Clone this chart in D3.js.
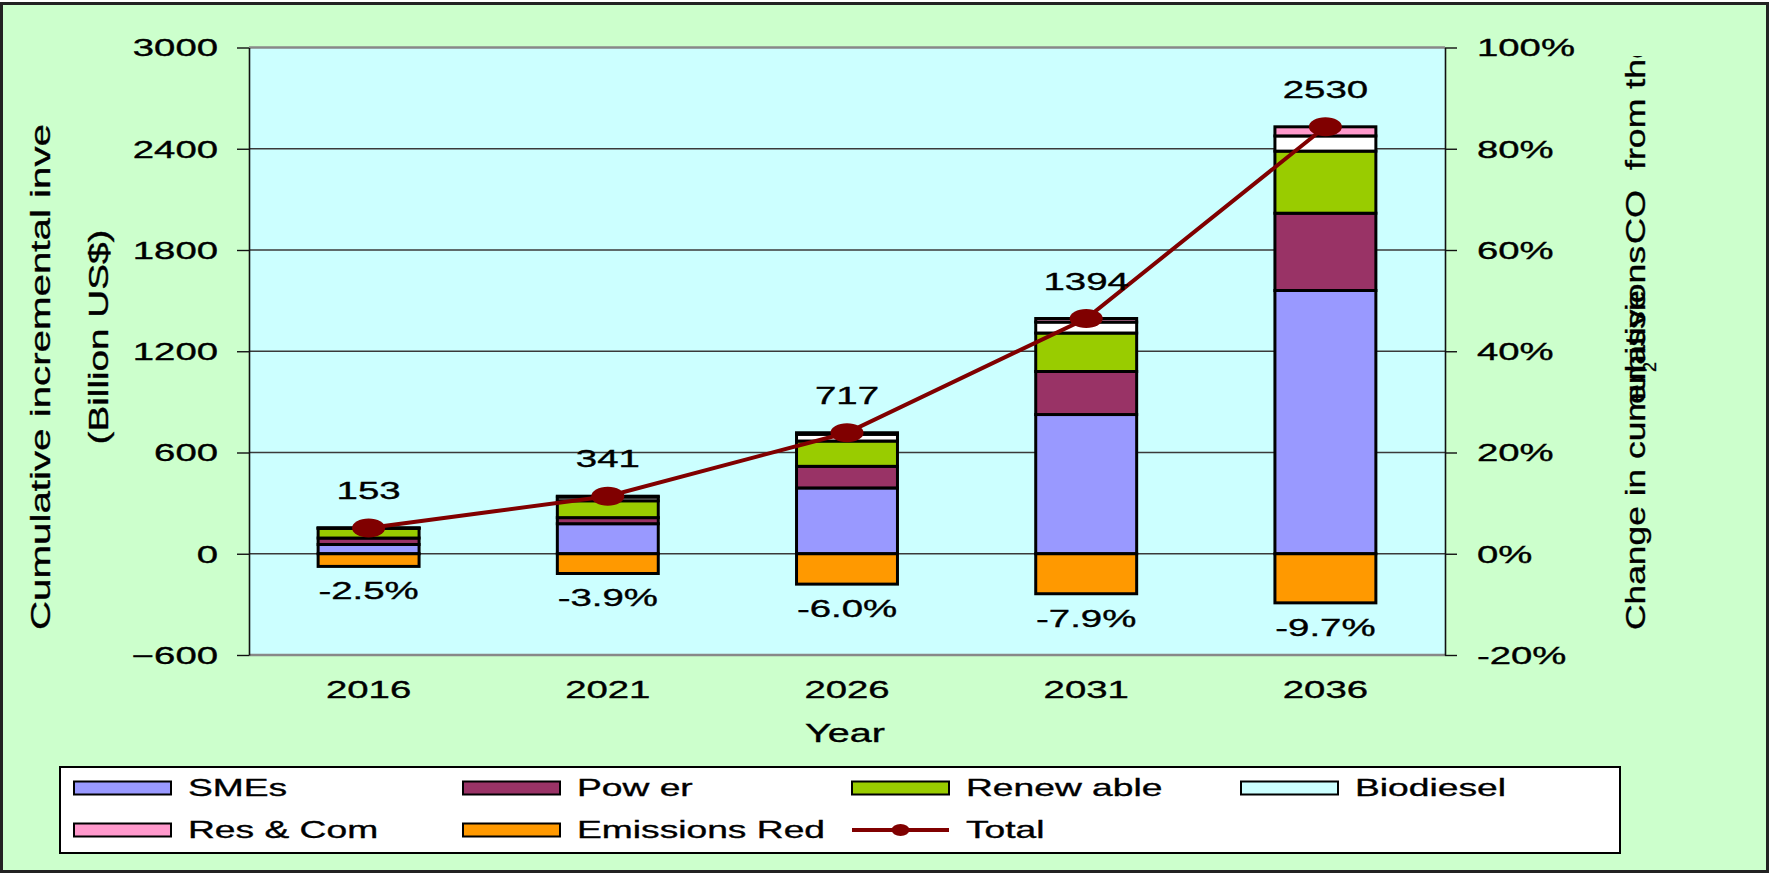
<!DOCTYPE html>
<html><head><meta charset="utf-8">
<script src="https://cdn.jsdelivr.net/npm/d3@7"></script>
<style>
body{margin:0;background:#fff;}
text{font-family:"Liberation Sans",Arial,sans-serif;fill:#000;stroke:#000;stroke-width:0.35px;}
</style>
</head><body>
<svg id="chart" width="1771" height="874"></svg>
<script>
// ---------- data ----------
const categories = ["2016","2021","2026","2031","2036"];
const smes       = [55, 178, 390, 825, 1560];
const power      = [38, 36, 128, 255, 458];
const renewable  = [58, 100, 150, 228, 368];
const biodiesel  = [1, 22, 40, 65, 90];
const resCom     = [1, 5, 9, 21, 54];
const emissionsRed = [-2.5, -3.9, -6.0, -7.9, -9.7];
const total      = [153, 341, 717, 1394, 2530];
const leftTicks  = [-600, 0, 600, 1200, 1800, 2400, 3000];
const rightTicks = [-20, 0, 20, 40, 60, 80, 100];
const stackKeys  = ["SMEs","Power","Renewable","Biodiesel","ResCom"];
const legendLabels = ["SMEs","Pow er","Renew able","Biodiesel","Res & Com","Emissions Red","Total"];

// ---------- styles ----------
const colors = {SMEs:"#9999FF", Power:"#993366", Renewable:"#99CC00", Biodiesel:"#FFFFFF", ResCom:"#FF99CC", Emissions:"#FF9900"};
const legendColors = ["#9999FF","#993366","#99CC00","#CCFFFF","#FF99CC","#FF9900"];
const lineColor = "#800000";
const FS = 23.5, SX = 1.63;   // tick font size and horizontal stretch seen in the reference

const svg = d3.select("#chart");
svg.append("rect").attr("width",1771).attr("height",874).attr("fill","#fff");
svg.append("rect").attr("x",1.5).attr("y",3.5).attr("width",1766).attr("height",868)
   .attr("fill","#CCFFCC").attr("stroke","#222").attr("stroke-width",3);

const L = 249, R = 1445, T = 47.5, B = 655;
const x = d3.scaleBand().domain(categories).range([L,R]).paddingInner(0.578).paddingOuter(0.289);
const y = d3.scaleLinear().domain([-600,3000]).range([B,T]);
const y2 = d3.scaleLinear().domain([-20,100]).range([B,T]);

// plot area
svg.append("rect").attr("x",L).attr("y",T).attr("width",R-L).attr("height",B-T).attr("fill","#CCFFFF");
// gridlines
svg.append("g").selectAll("line").data(leftTicks.slice(1,-1)).join("line")
  .attr("x1",L).attr("x2",R).attr("y1",d=>y(d)).attr("y2",d=>y(d))
  .attr("stroke","#3a3a3a").attr("stroke-width",1.4);
svg.append("line").attr("x1",L).attr("x2",R).attr("y1",T).attr("y2",T).attr("stroke","#888").attr("stroke-width",2.5);
svg.append("line").attr("x1",L).attr("x2",R).attr("y1",B).attr("y2",B).attr("stroke","#888").attr("stroke-width",2.5);

// axes
const gl = svg.append("g").attr("transform",`translate(${L},0)`)
  .call(d3.axisLeft(y).tickValues(leftTicks).tickSize(12).tickSizeOuter(0).tickFormat(d3.format("d")));
gl.select(".domain").attr("stroke","#111").attr("stroke-width",1.6);
gl.selectAll(".tick line").attr("stroke","#111").attr("stroke-width",1.4);
gl.selectAll(".tick text").attr("x",null).attr("dy",null).attr("font-size",FS)
  .attr("text-anchor","end").attr("fill","#000").attr("transform",`translate(-31,8.3) scale(${SX},1)`);

const gr = svg.append("g").attr("transform",`translate(${R},0)`)
  .call(d3.axisRight(y2).tickValues(rightTicks).tickSize(12).tickSizeOuter(0).tickFormat(d=>d+"%"));
gr.select(".domain").attr("stroke","#111").attr("stroke-width",1.6);
gr.selectAll(".tick line").attr("stroke","#111").attr("stroke-width",1.4);
gr.selectAll(".tick text").attr("x",null).attr("dy",null).attr("font-size",FS)
  .attr("text-anchor","start").attr("fill","#000").attr("transform",`translate(32,8.3) scale(${SX},1)`);

const gx = svg.append("g").attr("transform",`translate(0,${B})`)
  .call(d3.axisBottom(x).tickSize(0));
gx.select(".domain").remove();
gx.selectAll(".tick text").attr("y",null).attr("dy",null).attr("font-size",FS)
  .attr("text-anchor","middle").attr("fill","#000").attr("transform",`translate(0,42.5) scale(${SX},1)`);

// stacked bars
const rows = categories.map((c,i)=>({cat:c, SMEs:smes[i], Power:power[i], Renewable:renewable[i], Biodiesel:biodiesel[i], ResCom:resCom[i]}));
const stacked = d3.stack().keys(stackKeys)(rows);
svg.append("g").selectAll("g").data(stacked).join("g")
  .attr("fill",d=>colors[d.key])
  .selectAll("rect").data(d=>d).join("rect")
  .attr("x",d=>x(d.data.cat)).attr("width",x.bandwidth())
  .attr("y",d=>y(d[1])).attr("height",d=>y(d[0])-y(d[1]))
  .attr("stroke","#000").attr("stroke-width",3);

// emissions reduction bars (secondary axis)
svg.append("g").selectAll("rect").data(emissionsRed).join("rect")
  .attr("x",(d,i)=>x(categories[i])).attr("width",x.bandwidth())
  .attr("y",y2(0)).attr("height",d=>y2(d)-y2(0))
  .attr("fill",colors.Emissions).attr("stroke","#000").attr("stroke-width",3);

// total line
const cx = i => x(categories[i]) + x.bandwidth()/2;
svg.append("path").datum(total)
  .attr("d", d3.line().x((d,i)=>cx(i)).y(d=>y(d)))
  .attr("fill","none").attr("stroke",lineColor).attr("stroke-width",4);
svg.append("g").selectAll("ellipse").data(total).join("ellipse")
  .attr("cx",(d,i)=>cx(i)).attr("cy",d=>y(d)).attr("rx",16.5).attr("ry",9.5).attr("fill",lineColor);

// data labels
svg.append("g").selectAll("text").data(total).join("text")
  .attr("transform",(d,i)=>`translate(${cx(i)},${y(d)-29}) scale(1.6,1)`)
  .attr("text-anchor","middle").attr("font-size",24).text(d=>d);
svg.append("g").selectAll("text").data(emissionsRed).join("text")
  .attr("transform",(d,i)=>`translate(${cx(i)},${y2(d)+33}) scale(1.6,1)`)
  .attr("text-anchor","middle").attr("font-size",24).text(d=>d.toFixed(1)+"%");

// axis titles
svg.append("text").attr("transform","translate(845,742) scale(1.55,1)")
  .attr("text-anchor","middle").attr("font-size",25.5).text("Year");
svg.append("text").attr("transform","translate(50,630) rotate(-90)")
  .attr("font-size",27.5).attr("textLength",506).attr("lengthAdjust","spacingAndGlyphs")
  .text("Cumulative incremental inve");
svg.append("text").attr("transform","translate(108,337) rotate(-90)")
  .attr("text-anchor","middle").attr("font-size",27).attr("textLength",215).attr("lengthAdjust","spacingAndGlyphs")
  .text("(Billion US$)");

// right title (garbled overlapping lines as in the reference)
svg.append("clipPath").attr("id","rtclip").append("rect").attr("x",1550).attr("y",56).attr("width",200).attr("height",800);
const rt = svg.append("g").attr("clip-path","url(#rtclip)");
const rtPieces = [
  {t:"Change in cumulative", y0:630, len:340},
  {t:"emissions", y0:404, len:158},
  {t:"CO", y0:244, len:54},
  {t:"from the", y0:170, len:131}
];
rtPieces.forEach(p=>{
  rt.append("text").attr("transform",`translate(1645,${p.y0}) rotate(-90)`)
    .attr("font-size",28).attr("textLength",p.len).attr("lengthAdjust","spacingAndGlyphs").text(p.t);
});
rt.append("text").attr("transform","translate(1656,372) rotate(-90)")
  .attr("font-size",18).text("2");

// legend
svg.append("rect").attr("x",60).attr("y",767).attr("width",1560).attr("height",86)
  .attr("fill","#fff").attr("stroke","#000").attr("stroke-width",2);
const lg = svg.append("g");
legendLabels.forEach((lab,i)=>{
  const col = i % 4, row = Math.floor(i/4);
  const x0 = 74 + 389*col, yc = 788 + 42*row;
  if (i < 6) {
    lg.append("rect").attr("x",x0).attr("y",yc-6.5).attr("width",97).attr("height",13)
      .attr("fill",legendColors[i]).attr("stroke","#000").attr("stroke-width",2);
  } else {
    lg.append("line").attr("x1",x0).attr("x2",x0+97).attr("y1",yc).attr("y2",yc)
      .attr("stroke",lineColor).attr("stroke-width",4);
    lg.append("ellipse").attr("cx",x0+48.5).attr("cy",yc).attr("rx",9).attr("ry",6).attr("fill",lineColor);
  }
  lg.append("text").attr("transform",`translate(${x0+114},${yc+8}) scale(1.55,1)`)
    .attr("font-size",24).text(lab);
});
</script>
</body></html>
